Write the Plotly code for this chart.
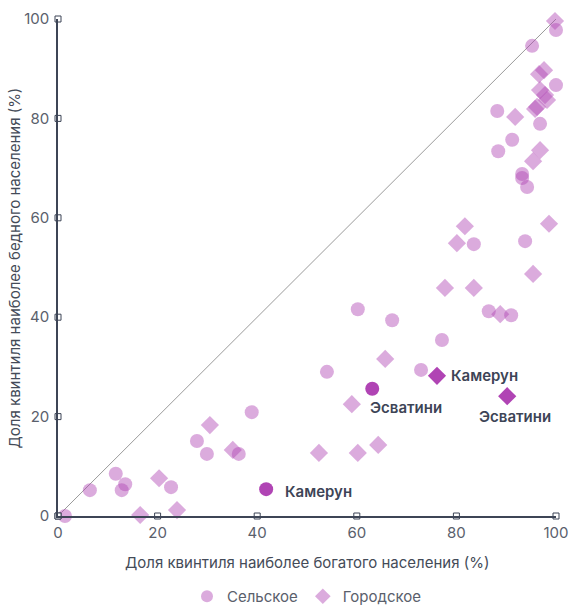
import plotly.graph_objects as go

# Rural (Сельское) – share of richest quintile (x) vs poorest quintile (y)
rural_x = [1.4, 6.4, 11.6, 13.5, 12.8, 22.7, 27.9, 29.9, 36.3, 38.9, 54.0, 60.2, 67.1,
           77.1, 72.9, 83.5, 93.8, 86.5, 91.0, 88.2, 95.2, 100.0, 100.0, 96.8, 91.2,
           88.4, 93.2, 93.2, 94.2]
rural_y = [0.0, 5.2, 8.5, 6.4, 5.2, 5.8, 15.1, 12.5, 12.5, 20.9, 29.0, 41.6, 39.4,
           35.4, 29.4, 54.7, 55.3, 41.2, 40.4, 81.5, 94.6, 97.8, 86.7, 78.9, 75.7,
           73.4, 68.8, 68.0, 66.2]

# Urban (Городское)
urban_x = [16.5, 20.3, 23.9, 30.5, 35.1, 52.4, 60.2, 64.3, 59.0, 65.7, 77.7, 83.5,
           88.8, 80.1, 81.7, 98.6, 95.4, 91.8, 99.8, 96.8, 95.4, 97.6, 96.6, 96.8,
           97.8, 98.2, 96.2, 95.8]
urban_y = [0.2, 7.6, 1.2, 18.3, 13.3, 12.7, 12.7, 14.3, 22.5, 31.6, 45.9, 45.9,
           40.6, 54.9, 58.3, 58.8, 48.7, 80.3, 99.6, 73.6, 71.4, 89.7, 88.9, 85.7,
           84.7, 83.7, 82.3, 81.9]

# Highlighted countries
hl_names = ["Камерун", "Эсватини"]
hl_rural_x = [41.8, 63.1]
hl_rural_y = [5.4, 25.6]
hl_urban_x = [76.1, 90.2]
hl_urban_y = [28.2, 24.1]

ticks = [0, 20, 40, 60, 80, 100]

BASE = "#b044b4"
AXIS = "#3d4556"
TXT = "#5a606c"
FONT = "Inter"

fig = go.Figure()

# diagonal equality line
fig.add_trace(go.Scatter(x=[0, 100], y=[0, 100], mode="lines",
                         line=dict(color="#9a9a9a", width=1),
                         showlegend=False, hoverinfo="skip"))

fig.add_trace(go.Scatter(x=rural_x, y=rural_y, mode="markers", name="Сельское",
                         marker=dict(symbol="circle", size=14, color=BASE, opacity=0.45,
                                     line=dict(width=0)),
                         cliponaxis=False))
fig.add_trace(go.Scatter(x=urban_x, y=urban_y, mode="markers", name="Городское",
                         marker=dict(symbol="diamond", size=14, color=BASE, opacity=0.45,
                                     line=dict(width=0)),
                         cliponaxis=False))

fig.add_trace(go.Scatter(x=hl_rural_x, y=hl_rural_y, mode="markers", showlegend=False,
                         marker=dict(symbol="circle", size=14, color=BASE, line=dict(width=0)),
                         cliponaxis=False))
fig.add_trace(go.Scatter(x=hl_urban_x, y=hl_urban_y, mode="markers", showlegend=False,
                         marker=dict(symbol="diamond", size=14, color=BASE, line=dict(width=0)),
                         cliponaxis=False))

# tick squares on axes
fig.add_trace(go.Scatter(x=ticks, y=[0] * len(ticks), mode="markers", showlegend=False,
                         hoverinfo="skip", cliponaxis=False,
                         marker=dict(symbol="square", size=6, color="white",
                                     line=dict(color=AXIS, width=1))))
fig.add_trace(go.Scatter(x=[0] * len(ticks), y=ticks, mode="markers", showlegend=False,
                         hoverinfo="skip", cliponaxis=False,
                         marker=dict(symbol="square", size=6, color="white",
                                     line=dict(color=AXIS, width=1))))

lbl_font = dict(family=FONT, size=15, color="#3d4456", weight=600)
# labels
fig.add_annotation(x=hl_rural_x[0] + 3.3, y=hl_rural_y[0] - 0.4, text=hl_names[0],
                   showarrow=False, xanchor="left", yanchor="middle", font=lbl_font)
fig.add_annotation(x=hl_urban_x[0] + 2.5, y=hl_urban_y[0], text=hl_names[0],
                   showarrow=False, xanchor="left", yanchor="middle", font=lbl_font)
fig.add_annotation(x=hl_rural_x[1] - 0.9, y=hl_rural_y[1] - 3.7, text=hl_names[1],
                   showarrow=False, xanchor="left", yanchor="middle", font=lbl_font)
fig.add_annotation(x=hl_urban_x[1] + 1.5, y=hl_urban_y[1] - 4.0, text=hl_names[1],
                   showarrow=False, xanchor="center", yanchor="middle", font=lbl_font)

# axis titles
title_font = dict(family=FONT, size=15, color="#444b58")
fig.add_annotation(xref="paper", yref="paper", x=0.5, y=-0.093, yanchor="middle",
                   xanchor="center", showarrow=False, font=title_font,
                   text="Доля квинтиля наиболее богатого населения (%)")
fig.add_annotation(xref="paper", yref="paper", x=-0.0865, y=0.5, xanchor="center",
                   yanchor="middle", showarrow=False, textangle=-90, font=title_font,
                   text="Доля квинтиля наиболее бедного населения (%)")

fig.update_layout(
    width=572, height=606, autosize=False,
    margin=dict(l=58, r=16, t=19, b=90, autoexpand=False),
    paper_bgcolor="white", plot_bgcolor="white",
    font=dict(family=FONT, size=15, color=TXT),
    showlegend=True,
    legend=dict(orientation="h", x=0.5, xanchor="center", y=-0.162, yanchor="middle",
                font=dict(family=FONT, size=15, color=TXT), itemsizing="constant",
                tracegroupgap=0, itemwidth=30),
    xaxis=dict(range=[0, 100], tickvals=ticks, showgrid=False, zeroline=False,
               showline=True, linecolor=AXIS, linewidth=1.5, ticks="", automargin=False,
               ticklabelstandoff=2,
               tickfont=dict(family=FONT, size=15, color=TXT)),
    yaxis=dict(range=[0, 100], tickvals=ticks, showgrid=False, zeroline=False,
               showline=True, linecolor=AXIS, linewidth=1.5, ticks="", automargin=False,
               ticklabelstandoff=4,
               tickfont=dict(family=FONT, size=15, color=TXT)),
)

fig.write_html("out.html",
               config=dict(displayModeBar=False, responsive=False),
               post_script="document.body.style.margin='0';document.body.style.padding='0';")
